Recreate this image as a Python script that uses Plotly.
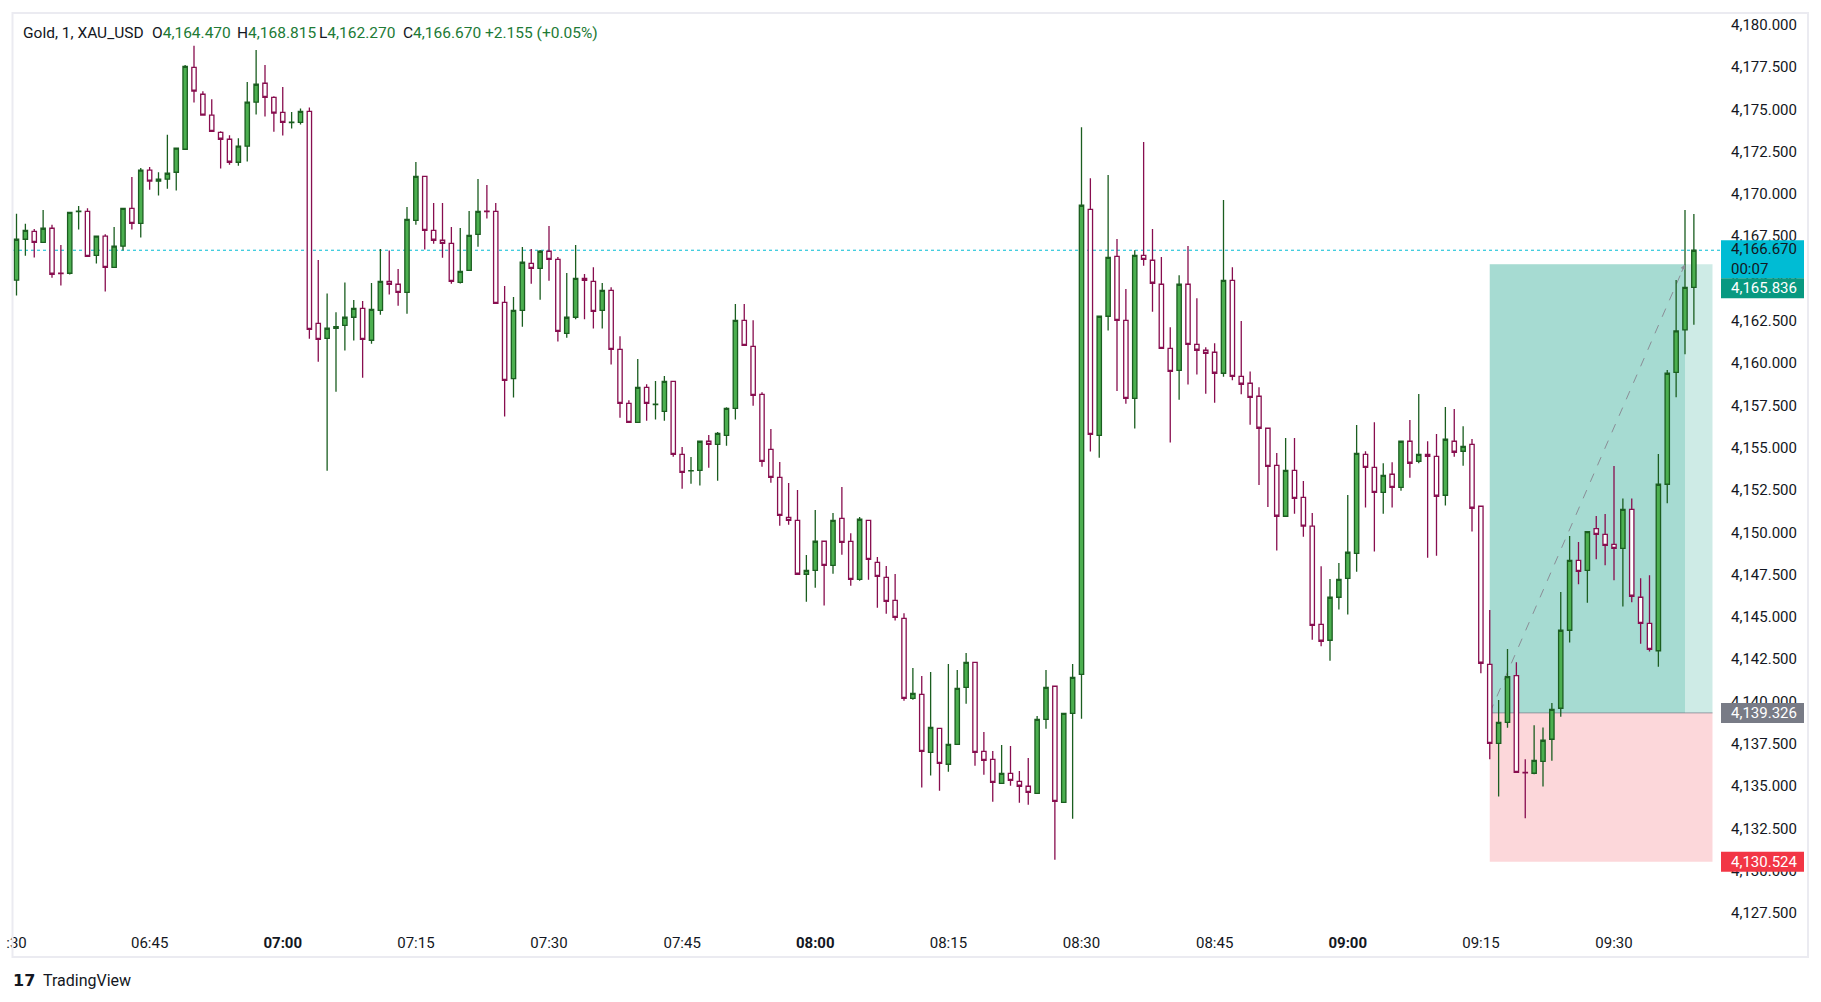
import pandas as pd
import plotly.graph_objects as go

# 1-minute Gold / XAU_USD bars, 06:30 -> 09:39
opens = [
    4164.90, 4167.32, 4167.79, 4167.14, 4167.97, 4165.31, 4165.31, 4168.96, 4168.97, 4166.37,
    4167.50, 4165.66, 4166.91, 4169.15, 4168.26, 4171.40, 4170.75, 4170.87, 4171.28, 4172.64,
    4177.48, 4175.89, 4174.65, 4173.64, 4173.23, 4171.87, 4172.82, 4175.42, 4176.54, 4175.71,
    4174.82, 4174.22, 4174.23, 4174.88, 4162.35, 4161.46, 4162.06, 4162.23, 4162.71, 4163.24,
    4161.35, 4163.12, 4164.83, 4164.66, 4164.18, 4168.44, 4171.04, 4167.85, 4167.26, 4167.08,
    4164.77, 4165.48, 4167.61, 4168.98, 4168.97, 4163.59, 4159.08, 4163.12, 4165.89, 4165.60,
    4166.61, 4166.13, 4161.76, 4162.71, 4165.01, 4164.83, 4163.12, 4164.30, 4160.81, 4157.62,
    4156.50, 4158.57, 4157.55, 4157.15, 4158.92, 4154.61, 4153.63, 4153.66, 4155.38, 4155.20,
    4155.73, 4157.33, 4162.53, 4160.99, 4158.15, 4154.90, 4153.25, 4150.88, 4150.71, 4147.52,
    4147.75, 4149.47, 4148.05, 4150.82, 4149.46, 4147.22, 4150.71, 4148.22, 4147.34, 4145.98,
    4144.91, 4140.19, 4140.42, 4136.99, 4138.41, 4136.29, 4137.47, 4140.84, 4142.31, 4137.05,
    4136.58, 4135.16, 4135.75, 4135.28, 4134.99, 4134.57, 4138.94, 4140.90, 4134.04, 4139.30,
    4141.60, 4169.09, 4155.73, 4162.77, 4166.31, 4162.53, 4157.92, 4166.37, 4166.08, 4164.66,
    4160.87, 4159.57, 4164.66, 4161.11, 4160.76, 4160.64, 4159.40, 4164.89, 4159.22, 4158.81,
    4158.04, 4156.15, 4153.96, 4150.95, 4153.66, 4152.07, 4150.36, 4144.56, 4143.62, 4146.16,
    4147.28, 4148.76, 4154.61, 4153.84, 4152.36, 4153.43, 4152.66, 4155.38, 4154.20, 4154.61,
    4154.49, 4152.19, 4155.38, 4154.79, 4155.20, 4151.54, 4142.20, 4137.53, 4138.77, 4141.53,
    4135.81, 4135.76, 4136.46, 4137.77, 4139.60, 4144.21, 4148.34, 4147.75, 4150.22, 4149.88,
    4149.29, 4149.05, 4151.36, 4146.16, 4144.62, 4143.00, 4152.84, 4159.45, 4161.96, 4164.470,
]
highs = [
    4168.82, 4168.23, 4167.93, 4169.05, 4168.17, 4166.98, 4168.91, 4169.29, 4169.15, 4167.50,
    4167.61, 4168.05, 4169.15, 4171.00, 4171.53, 4171.59, 4171.28, 4173.49, 4172.70, 4177.62,
    4178.75, 4176.07, 4175.59, 4173.70, 4173.47, 4173.29, 4176.62, 4178.51, 4177.62, 4175.77,
    4176.32, 4174.84, 4175.05, 4175.10, 4166.09, 4164.12, 4163.00, 4164.77, 4163.73, 4163.67,
    4164.73, 4166.75, 4166.65, 4165.56, 4169.23, 4171.89, 4171.06, 4169.46, 4169.46, 4168.04,
    4167.98, 4168.99, 4170.88, 4170.53, 4169.46, 4164.56, 4163.91, 4166.86, 4166.75, 4166.69,
    4168.10, 4166.27, 4165.33, 4166.98, 4165.27, 4165.66, 4164.73, 4164.48, 4161.58, 4157.80,
    4160.24, 4158.75, 4158.94, 4159.24, 4158.94, 4155.04, 4154.45, 4155.38, 4155.75, 4155.93,
    4157.39, 4163.49, 4163.49, 4162.53, 4158.27, 4156.10, 4154.15, 4152.91, 4152.50, 4148.66,
    4151.32, 4149.49, 4151.14, 4152.68, 4149.94, 4150.90, 4150.73, 4148.54, 4148.01, 4147.53,
    4145.21, 4141.98, 4141.51, 4141.74, 4138.43, 4142.22, 4141.86, 4142.87, 4142.33, 4138.20,
    4137.07, 4137.43, 4137.37, 4135.89, 4136.66, 4139.14, 4141.86, 4140.92, 4139.32, 4142.22,
    4173.94, 4170.92, 4162.79, 4171.12, 4167.34, 4164.38, 4166.67, 4173.07, 4167.93, 4166.27,
    4162.12, 4165.19, 4166.92, 4163.83, 4160.93, 4161.17, 4169.64, 4165.66, 4162.49, 4159.51,
    4158.57, 4156.17, 4154.69, 4155.58, 4155.58, 4153.03, 4151.14, 4147.99, 4147.24, 4148.19,
    4152.21, 4156.34, 4154.79, 4156.50, 4154.08, 4154.14, 4155.40, 4156.64, 4158.18, 4155.38,
    4155.81, 4157.41, 4157.29, 4156.27, 4155.52, 4151.56, 4145.41, 4140.09, 4143.10, 4142.32,
    4136.58, 4138.59, 4138.47, 4139.91, 4146.47, 4149.78, 4149.43, 4150.06, 4150.96, 4151.08,
    4153.92, 4152.00, 4152.00, 4147.28, 4147.46, 4154.63, 4159.59, 4164.91, 4169.05, 4168.815,
]
lows = [
    4163.99, 4166.35, 4166.24, 4167.10, 4165.05, 4164.58, 4165.23, 4167.89, 4166.31, 4165.88,
    4164.23, 4165.66, 4166.65, 4167.89, 4167.42, 4170.25, 4169.90, 4170.31, 4170.20, 4172.60,
    4175.40, 4174.62, 4173.68, 4171.50, 4171.73, 4171.67, 4171.91, 4174.69, 4174.57, 4173.68,
    4173.45, 4173.86, 4174.10, 4161.44, 4160.08, 4153.64, 4158.31, 4160.74, 4161.33, 4159.14,
    4161.15, 4162.86, 4164.05, 4163.39, 4162.92, 4168.18, 4166.71, 4167.06, 4166.23, 4164.69,
    4164.71, 4165.46, 4166.88, 4168.54, 4163.50, 4156.84, 4157.96, 4162.15, 4164.69, 4163.75,
    4164.87, 4161.27, 4161.50, 4162.59, 4162.59, 4162.04, 4162.04, 4159.91, 4156.77, 4156.48,
    4156.48, 4156.60, 4156.66, 4156.60, 4154.47, 4152.58, 4152.87, 4152.76, 4153.82, 4153.05,
    4155.12, 4156.66, 4161.03, 4157.48, 4153.88, 4152.93, 4150.39, 4150.45, 4147.50, 4145.90,
    4146.73, 4145.67, 4147.55, 4148.68, 4146.84, 4147.14, 4147.20, 4145.54, 4145.19, 4144.78,
    4140.05, 4140.10, 4134.91, 4135.62, 4134.73, 4135.85, 4137.45, 4139.87, 4136.21, 4135.67,
    4134.08, 4135.14, 4135.02, 4134.02, 4133.90, 4134.55, 4138.39, 4130.65, 4134.02, 4133.07,
    4138.98, 4154.77, 4154.41, 4161.92, 4158.35, 4157.60, 4156.13, 4165.76, 4163.04, 4160.85,
    4155.30, 4157.84, 4158.73, 4159.32, 4158.19, 4157.66, 4159.20, 4158.98, 4158.16, 4156.36,
    4152.80, 4151.50, 4148.92, 4150.93, 4151.10, 4149.74, 4143.65, 4143.26, 4142.41, 4145.43,
    4145.14, 4147.67, 4151.46, 4148.86, 4151.10, 4151.46, 4152.46, 4153.23, 4154.08, 4148.50,
    4148.62, 4151.58, 4154.47, 4153.94, 4150.04, 4141.67, 4136.58, 4134.38, 4138.45, 4135.79,
    4133.10, 4135.70, 4134.97, 4136.50, 4139.10, 4143.48, 4146.93, 4145.84, 4148.40, 4148.05,
    4147.16, 4145.61, 4145.86, 4143.42, 4142.95, 4142.06, 4151.71, 4157.98, 4160.52, 4162.270,
]
closes = [
    4167.32, 4167.85, 4167.14, 4167.97, 4165.25, 4165.29, 4168.91, 4168.98, 4166.31, 4167.50,
    4165.66, 4166.91, 4169.15, 4168.26, 4171.40, 4170.75, 4170.87, 4171.22, 4172.70, 4177.54,
    4176.07, 4174.65, 4173.70, 4173.23, 4171.87, 4172.82, 4175.42, 4176.48, 4175.71, 4174.77,
    4174.23, 4174.24, 4174.88, 4161.99, 4161.40, 4162.06, 4162.15, 4162.71, 4163.24, 4161.40,
    4163.18, 4164.83, 4164.66, 4164.18, 4168.50, 4171.04, 4167.85, 4167.26, 4167.08, 4164.83,
    4165.42, 4167.55, 4168.97, 4168.96, 4163.53, 4158.98, 4163.12, 4165.96, 4165.60, 4166.61,
    4166.13, 4161.88, 4162.71, 4165.01, 4164.89, 4163.06, 4164.30, 4160.81, 4157.62, 4156.50,
    4158.57, 4157.62, 4157.57, 4158.92, 4154.61, 4153.54, 4153.65, 4155.38, 4155.20, 4155.85,
    4157.33, 4162.53, 4161.05, 4158.09, 4154.19, 4153.25, 4151.00, 4150.71, 4147.52, 4147.75,
    4149.47, 4148.05, 4150.71, 4149.41, 4147.22, 4150.77, 4148.40, 4147.40, 4145.92, 4144.97,
    4140.19, 4140.48, 4137.05, 4138.47, 4136.34, 4137.47, 4140.78, 4142.31, 4136.99, 4136.52,
    4135.22, 4135.75, 4135.34, 4134.99, 4134.63, 4138.94, 4140.84, 4134.10, 4139.30, 4141.43,
    4169.33, 4155.79, 4162.77, 4166.25, 4162.53, 4157.92, 4166.37, 4166.13, 4164.72, 4160.87,
    4159.51, 4164.66, 4161.11, 4160.76, 4160.58, 4159.40, 4164.89, 4159.22, 4158.75, 4157.98,
    4156.15, 4153.90, 4150.95, 4153.66, 4152.01, 4150.36, 4144.50, 4143.56, 4146.16, 4147.22,
    4148.82, 4154.67, 4153.84, 4152.36, 4153.37, 4152.66, 4155.38, 4154.08, 4154.61, 4154.49,
    4152.13, 4155.50, 4154.73, 4155.08, 4151.42, 4142.26, 4137.53, 4138.77, 4141.47, 4135.81,
    4135.79, 4136.52, 4137.71, 4139.54, 4144.21, 4148.34, 4147.69, 4150.04, 4149.88, 4149.23,
    4149.05, 4151.36, 4146.22, 4144.62, 4143.08, 4152.84, 4159.40, 4161.90, 4164.48, 4166.670,
]

base = pd.Timestamp("2025-11-21 06:30")
times = pd.date_range(base, periods=len(opens), freq="min")

tick_times = ["06:30", "06:45", "07:00", "07:15", "07:30", "07:45", "08:00",
              "08:15", "08:30", "08:45", "09:00", "09:15", "09:30"]
tick_text = [":30", "06:45", "<b>07:00</b>", "07:15", "07:30", "07:45", "<b>08:00</b>",
             "08:15", "08:30", "08:45", "<b>09:00</b>", "09:15", "09:30"]

last_price = 4166.670
target_price = 4165.836
entry_price = 4139.326
stop_price = 4130.524
countdown = "00:07"

header_parts = [("Gold, 1, XAU_USD", None), ("O", "4,164.470"), ("H", "4,168.815"),
                ("L", "4,162.270"), ("C", "4,166.670"), ("", "+2.155 (+0.05%)")]

# ---- layout geometry (pixels of the 1821x1002 page) ----
W, H = 1821, 1002
PL, PR, PT, PB = 13, 1720, 14, 928
MIN_PX, X0_PX = 8.875, 16.5


def px(x):
    return (x - PL) / (PR - PL)


def py(y):
    return (PB - y) / (PB - PT)


def t(minutes):
    return base + pd.Timedelta(minutes=minutes)


def price_y(p):
    return 24.7 + (4180 - p) * 16.92


DARK = "#131722"
UP_FILL, UP_LINE = "#4CAF50", "#1B5E20"
DN_FILL, DN_LINE = "#FFFFFF", "#880E4F"
AXFONT = dict(family="Roboto, Arial, sans-serif", size=15, color=DARK)

fig = go.Figure()
fig.add_trace(go.Candlestick(
    x=times, open=opens, high=highs, low=lows, close=closes,
    increasing=dict(line=dict(color=UP_LINE, width=1.3), fillcolor=UP_FILL),
    decreasing=dict(line=dict(color=DN_LINE, width=1.3), fillcolor=DN_FILL),
    whiskerwidth=0, hoverinfo="skip", showlegend=False,
))

shapes = []
entry_t, hit_t, end_t = t(166), t(188), t(191.1)
# long position tool
shapes.append(dict(type="rect", xref="x", yref="y", x0=entry_t, x1=end_t, y0=entry_price, y1=target_price,
                   fillcolor="rgba(8,153,129,0.2)", line=dict(width=0), layer="below"))
shapes.append(dict(type="rect", xref="x", yref="y", x0=entry_t, x1=hit_t, y0=entry_price, y1=target_price,
                   fillcolor="rgba(8,153,129,0.2)", line=dict(width=0), layer="below"))
shapes.append(dict(type="rect", xref="x", yref="y", x0=entry_t, x1=end_t, y0=stop_price, y1=entry_price,
                   fillcolor="rgba(242,54,69,0.2)", line=dict(width=0), layer="below"))
shapes.append(dict(type="line", xref="x", yref="y", x0=entry_t, x1=end_t, y0=entry_price, y1=entry_price,
                   line=dict(color="rgba(120,123,134,0.7)", width=1), layer="below"))
shapes.append(dict(type="line", xref="x", yref="y", x0=entry_t, x1=hit_t, y0=entry_price, y1=target_price,
                   line=dict(color="#8a8d96", width=1, dash="dash"), layer="below"))
# last price line
shapes.append(dict(type="line", xref="paper", yref="y", x0=0, x1=1, y0=last_price, y1=last_price,
                   line=dict(color="#00BCD4", width=1, dash="dot"), layer="below"))
# outer frame
shapes.append(dict(type="rect", xref="paper", yref="paper", x0=px(12.5), x1=px(1808), y0=py(957), y1=py(13),
                   line=dict(color="#ebebf1", width=2), fillcolor="rgba(0,0,0,0)", layer="above"))

# price scale labels
label_boxes = [
    (price_y(last_price) - 10, price_y(last_price) + 28, "#00BCD4", DARK, f"{last_price:,.3f}<br>{countdown}"),
    (price_y(target_price) + 14, price_y(target_price) + 34, "#089981", "white", f"{target_price:,.3f}"),
    (price_y(entry_price) - 10, price_y(entry_price) + 10, "#787B86", "white", f"{entry_price:,.3f}"),
    (price_y(stop_price) - 10, price_y(stop_price) + 10, "#F23645", "white", f"{stop_price:,.3f}"),
]
annotations = []
for top, bot, bg, fg, txt in label_boxes:
    shapes.append(dict(type="rect", xref="paper", yref="paper", x0=px(1721), x1=px(1804),
                       y0=py(bot), y1=py(top), fillcolor=bg, line=dict(width=0), layer="above"))
    annotations.append(dict(xref="paper", yref="paper", x=px(1729), y=py((top + bot) / 2),
                            xanchor="left", yanchor="middle", align="left", showarrow=False,
                            text=txt, font=dict(family=AXFONT["family"], size=15, color=fg)))

# arrow head of the dashed path
annotations.append(dict(x=hit_t, y=target_price, xref="x", yref="y", ax=-4, ay=9, text="",
                        showarrow=True, arrowhead=2, arrowsize=1, arrowwidth=1, arrowcolor="#8a8d96"))

# header
hx = [21, 150, 235, 317, 401, 483]
for x, (lab, val) in zip(hx, header_parts):
    txt = lab if val is None else f"{lab}<span style='color:#217a35'>{val}</span>"
    annotations.append(dict(xref="paper", yref="paper", x=px(x), y=py(33), xanchor="left", yanchor="middle",
                            showarrow=False, text=txt,
                            font=dict(family="Roboto, Arial, sans-serif", size=15.5, color=DARK)))

# TradingView mark
annotations.append(dict(xref="paper", yref="paper", x=px(11), y=py(980), xanchor="left", yanchor="middle",
                        showarrow=False, text="<b>17</b>",
                        font=dict(family="DejaVu Sans, sans-serif", size=16, color=DARK)))
annotations.append(dict(xref="paper", yref="paper", x=px(41), y=py(980), xanchor="left", yanchor="middle",
                        showarrow=False, text="TradingView",
                        font=dict(family="Roboto, sans-serif", size=16, color=DARK)))

fig.update_layout(
    width=W, height=H,
    margin=dict(l=PL, r=W - PR, t=PT, b=H - PB, autoexpand=False),
    plot_bgcolor="white", paper_bgcolor="white",
    showlegend=False, hovermode=False,
    shapes=shapes, annotations=annotations,
    xaxis=dict(
        type="date", rangeslider=dict(visible=False), automargin=False,
        range=[t((PL - X0_PX) / MIN_PX), t((PR - X0_PX) / MIN_PX)],
        tickvals=[pd.Timestamp(f"2025-11-21 {s}") for s in tick_times], ticktext=tick_text,
        showgrid=False, zeroline=False, showline=False, ticks="",
        tickfont=AXFONT, ticklabelstandoff=4,
    ),
    yaxis=dict(
        side="right", automargin=False,
        range=[4180 - (PB - 24.7) / 16.92, 4180 + (24.7 - PT) / 16.92],
        tick0=4127.5, dtick=2.5, tickformat=",.3f",
        showgrid=False, zeroline=False, showline=False, ticks="",
        tickfont=AXFONT, ticklabelstandoff=10,
    ),
)

fig.write_html("out.html", config={"displayModeBar": False},
               post_script="document.body.style.margin='0';")
